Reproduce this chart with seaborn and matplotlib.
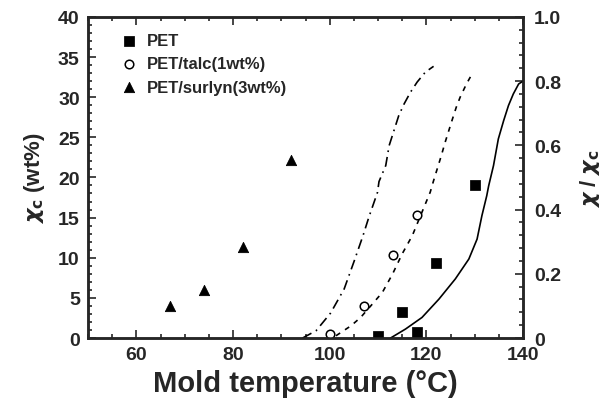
import numpy as np
import pandas as pd
import matplotlib
matplotlib.use("Agg")
import matplotlib.pyplot as plt
import seaborn as sns
from matplotlib.ticker import MultipleLocator

# measured points (left axis, wt%)
pet_T = [110, 115, 118, 122, 130]
pet_xc = [0.3, 3.2, 0.8, 9.4, 19.1]
talc_T = [100, 107, 113, 118]
talc_xc = [0.5, 4.0, 10.3, 15.3]
surlyn_T = [67, 74, 82, 92]
surlyn_xc = [4.0, 6.0, 11.3, 22.2]

# model curves (right axis, chi/chi_c)
pet_line_T = [112.6, 115.7, 119.1, 122.6, 126.0, 128.8, 130.5, 131.5, 132.5,
              132.9, 133.9, 134.9, 136.0, 137.0, 138.0, 139.1, 140.0]
pet_line_r = [0.0, 0.028, 0.064, 0.121, 0.184, 0.246, 0.308, 0.381, 0.443,
              0.474, 0.537, 0.62, 0.677, 0.724, 0.76, 0.791, 0.80]
talc_line_T = [101.3, 104.4, 106.4, 108.5, 110.9, 113.0, 115.0, 117.1, 118.8,
               120.8, 121.5, 123.1, 123.9, 125.3, 126.2, 127.0, 128.3, 129.6]
talc_line_r = [0.007, 0.038, 0.064, 0.10, 0.142, 0.199, 0.262, 0.319, 0.381,
               0.454, 0.49, 0.568, 0.61, 0.677, 0.719, 0.75, 0.791, 0.826]
surlyn_line_T = [94.4, 97.2, 100.2, 103.0, 105.1, 106.9, 108.1, 109.9, 110.2,
                 111.6, 112.3, 113.3, 114.3, 115.4, 116.7, 118.1, 119.8, 121.5]
surlyn_line_r = [0.0, 0.023, 0.078, 0.153, 0.241, 0.319, 0.376, 0.454, 0.487,
                 0.537, 0.599, 0.646, 0.693, 0.729, 0.765, 0.797, 0.828, 0.846]

sns.set_style("ticks")
plt.rcParams["font.family"] = ["Liberation Sans", "DejaVu Sans"]
plt.rcParams["font.weight"] = "bold"
plt.rcParams["mathtext.fontset"] = "dejavusans"

fig = plt.figure(figsize=(6.16, 4.06), dpi=100)
ax = fig.add_axes([0.143, 0.165, 0.706, 0.791])
ax2 = ax.twinx()

sns.scatterplot(x=pet_T, y=pet_xc, ax=ax, marker="s", s=45, color="black",
                edgecolor="black", label="PET", zorder=3)
sns.scatterplot(x=talc_T, y=talc_xc, ax=ax, marker="o", s=38, facecolor="white",
                edgecolor="black", linewidth=1.1, label="PET/talc(1wt%)", zorder=3)
sns.scatterplot(x=surlyn_T, y=surlyn_xc, ax=ax, marker="^", s=55, color="black",
                edgecolor="black", label="PET/surlyn(3wt%)", zorder=3)

lines = pd.DataFrame({
    "T": pet_line_T + talc_line_T + surlyn_line_T,
    "r": pet_line_r + talc_line_r + surlyn_line_r,
    "grp": ["pet"] * len(pet_line_T) + ["talc"] * len(talc_line_T) + ["surlyn"] * len(surlyn_line_T),
})
sns.lineplot(data=lines, x="T", y="r", style="grp", ax=ax2, color="black",
             estimator=None, sort=False, linewidth=1.2, legend=False,
             dashes={"pet": "", "talc": (3, 3.5), "surlyn": (6, 3, 1, 3)})

ax.set_xlim(50, 140)
ax.set_ylim(0, 40)
ax2.set_ylim(0, 1.0)
ax.set_xticks([60, 80, 100, 120, 140])
ax.xaxis.set_minor_locator(MultipleLocator(5))
ax.yaxis.set_major_locator(MultipleLocator(5))
ax.yaxis.set_minor_locator(MultipleLocator(1))
ax2.set_yticks([0, 0.2, 0.4, 0.6, 0.8, 1.0])
ax2.set_yticklabels(["0", "0.2", "0.4", "0.6", "0.8", "1.0"])
ax2.yaxis.set_minor_locator(MultipleLocator(0.04))

ax.tick_params(which="both", direction="in", top=True, right=False, width=1.2,
               labelsize=14, pad=6)
ax.tick_params(which="major", length=6)
ax.tick_params(which="minor", length=3)
ax2.tick_params(which="both", direction="in", width=1.2, labelsize=14, pad=8)
ax2.tick_params(which="major", length=6)
ax2.tick_params(which="minor", length=3)
for a in (ax, ax2):
    for sp in a.spines.values():
        sp.set_linewidth(1.8)
        sp.set_visible(True)

ax.set_xlabel("Mold temperature (°C)", fontsize=21, fontweight="bold", labelpad=4)
ax.set_ylabel(r"$\chi_{\mathbf{c}}$ (wt%)", fontsize=16, fontweight="bold", labelpad=8)
ax2.set_ylabel(r"$\chi$ / $\chi_{\mathbf{c}}$", fontsize=16, fontweight="bold",
               rotation=90, labelpad=12)

ax.legend(loc="upper left", bbox_to_anchor=(0.04, 0.97), frameon=False,
          fontsize=12, handletextpad=0.1, labelspacing=0.5, borderaxespad=0,
          prop={"weight": "bold", "size": 12})

fig.savefig("out.png", dpi=100)
